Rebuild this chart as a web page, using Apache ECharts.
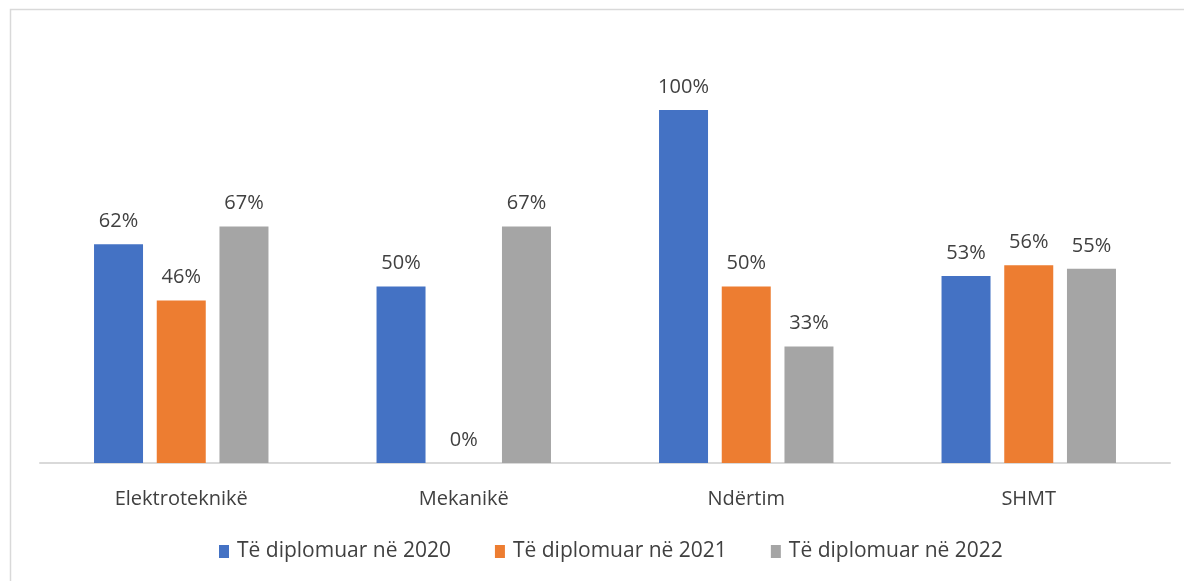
<!DOCTYPE html>
<html>
<head>
<meta charset="utf-8">
<script src="https://cdn.jsdelivr.net/npm/echarts@6/dist/echarts.min.js"></script>
<style>
  html, body { margin: 0; padding: 0; background: #fff; }
  #main { width: 1184px; height: 581px; }
</style>
</head>
<body>
<div id="main"></div>
<script>
var categories = ['Elektroteknikë', 'Mekanikë', 'Ndërtim', 'SHMT'];
var seriesNames = ['Të diplomuar në 2020', 'Të diplomuar në 2021', 'Të diplomuar në 2022'];
var values2020 = [62, 50, 100, 53];
var values2021 = [46, 0, 50, 56];
var values2022 = [67, 67, 33, 55];
var colors = ['#4472C4', '#ED7D31', '#A5A5A5'];

var font = 'Open Sans';

function barSeries(name, data, color) {
  return {
    name: name,
    type: 'bar',
    data: data,
    barWidth: 49,
    barGap: '28%',
    itemStyle: { color: color },
    label: {
      show: true,
      position: 'top',
      distance: 13,
      formatter: '{c}%',
      color: '#404040',
      fontFamily: font,
      fontSize: 20
    }
  };
}

var chart = echarts.init(document.getElementById('main'));

var option = {
  animation: false,
  color: colors,
  graphic: [{
    type: 'rect',
    shape: { x: 10.5, y: 9.5, width: 1200, height: 600 },
    style: { fill: 'none', stroke: '#d9d9d9', lineWidth: 1.5 },
    silent: true
  }],
  grid: { left: 40, right: 14, top: 110, bottom: 118 },
  legend: {
    top: 536,
    left: 214,
    padding: 5,
    itemWidth: 10,
    itemHeight: 13,
    itemGap: 44,
    icon: 'rect',
    textStyle: { color: '#404040', fontFamily: font, fontSize: 21, padding: [0, 0, 0, 3] },
    data: seriesNames
  },
  xAxis: {
    type: 'category',
    data: categories,
    axisLine: { lineStyle: { color: '#d9d9d9', width: 2 } },
    axisTick: { show: false },
    axisLabel: { color: '#404040', fontFamily: font, fontSize: 20, margin: 26 }
  },
  yAxis: {
    type: 'value',
    min: 0,
    max: 100,
    show: false,
    splitLine: { show: false }
  },
  series: [
    barSeries(seriesNames[0], values2020, colors[0]),
    barSeries(seriesNames[1], values2021, colors[1]),
    barSeries(seriesNames[2], values2022, colors[2])
  ]
};

chart.setOption(option);
</script>
</body>
</html>
